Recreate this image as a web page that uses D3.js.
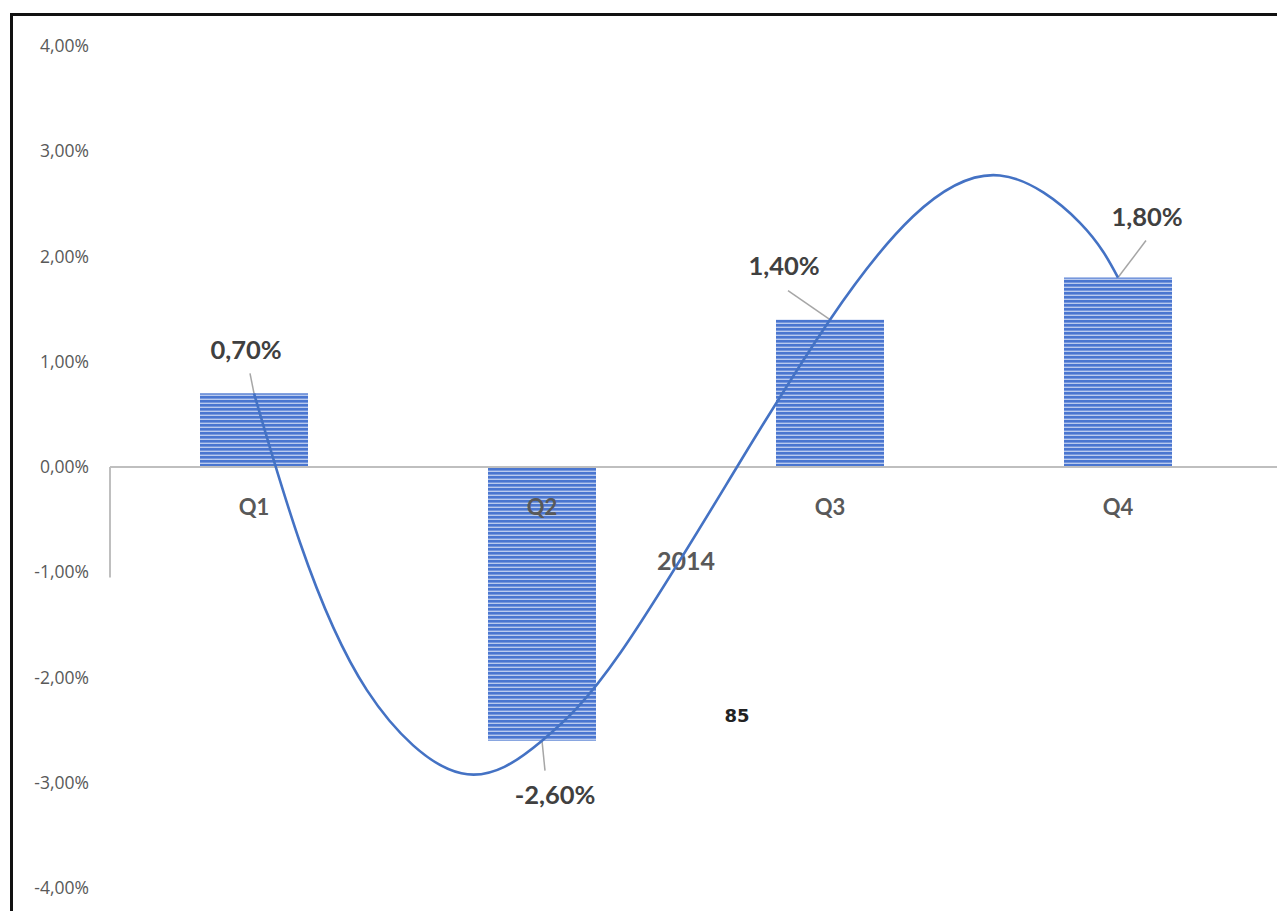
<!DOCTYPE html>
<html>
<head>
<meta charset="utf-8">
<script src="https://cdn.jsdelivr.net/npm/d3@7"></script>
<style>
  html, body { margin: 0; padding: 0; background: #fff; }
  svg { display: block; }
</style>
</head>
<body>
<svg id="chart" width="1277" height="911"></svg>
<script>
// ---- data ----
const categories = ["Q1", "Q2", "Q3", "Q4"];
const groupLabel = "2014";
const barValues = [0.70, -2.60, 1.40, 1.80];
const dataLabels = ["0,70%", "-2,60%", "1,40%", "1,80%"];
const yTicks = [-4, -3, -2, -1, 0, 1, 2, 3, 4];
// smoothed line: position in category units (0 = Q1 ... 3 = Q4) and value (%)
const linePos = [0, 0.160, 0.392, 0.72, 1.0, 1.271, 1.677, 2.0, 2.288, 2.59, 2.868, 3.0];
const lineVal = [0.70, -0.72, -2.12, -2.91, -2.60, -1.77, 0.0, 1.40, 2.38, 2.77, 2.32, 1.80];
const footNote = "85";

// ---- layout ----
const svg = d3.select("#chart");
const W = 1277, H = 911;
const plotLeft = 110, plotRight = 1262, plotTop = 46, plotBottom = 888;

const x = d3.scaleBand().domain(categories).range([plotLeft, plotRight])
  .paddingInner(0.625).paddingOuter(0.3125);
const y = d3.scaleLinear().domain([-4, 4]).range([plotBottom, plotTop]);
const xl = d3.scaleLinear().domain([0, 3])
  .range([x("Q1") + x.bandwidth() / 2, x("Q4") + x.bandwidth() / 2]);

const locale = d3.formatLocale({decimal: ",", thousands: ".", grouping: [3], currency: ["", "€"], minus: "-"});
const f2 = locale.format(".2f");

// stripe pattern
const defs = svg.append("defs");
const pat = defs.append("pattern").attr("id", "stripes")
  .attr("patternUnits", "userSpaceOnUse").attr("width", 8).attr("height", 4);
pat.append("rect").attr("width", 8).attr("height", 4).attr("fill", "#b9caee");
pat.append("rect").attr("width", 8).attr("height", 2.6).attr("fill", "#4a76d0");

// frame
svg.append("line").attr("x1", 10).attr("x2", W).attr("y1", 14.5).attr("y2", 14.5)
  .attr("stroke", "#111").attr("stroke-width", 3);
svg.append("line").attr("x1", 11.5).attr("x2", 11.5).attr("y1", 13).attr("y2", H)
  .attr("stroke", "#111").attr("stroke-width", 3);

// y axis labels
const yAxis = svg.append("g").attr("transform", `translate(${plotLeft},0)`)
  .call(d3.axisLeft(y).tickValues(yTicks).tickSize(0).tickPadding(21)
    .tickFormat(d => f2(d) + "%"));
yAxis.select(".domain").remove();
yAxis.selectAll("text").attr("fill", "#595959")
  .style("font-family", "'Open Sans', Lato, sans-serif").style("font-size", "17.5px");

// bars
svg.append("g").selectAll("rect").data(barValues).join("rect")
  .attr("x", (d, i) => x(categories[i]))
  .attr("width", x.bandwidth())
  .attr("y", d => Math.min(y(d), y(0)))
  .attr("height", d => Math.abs(y(d) - y(0)))
  .attr("fill", "url(#stripes)");

// category axis
const y0 = y(0);
svg.append("line").attr("x1", plotLeft).attr("x2", W).attr("y1", y0).attr("y2", y0)
  .attr("stroke", "#bfbfbf").attr("stroke-width", 2);
svg.append("line").attr("x1", plotLeft).attr("x2", plotLeft).attr("y1", y0).attr("y2", y(-1.05))
  .attr("stroke", "#bfbfbf").attr("stroke-width", 2);

const xAxis = svg.append("g").attr("transform", `translate(0,${y0})`)
  .call(d3.axisBottom(x).tickSize(0).tickPadding(0));
xAxis.select(".domain").remove();
xAxis.selectAll("text").attr("fill", "#595959").attr("dy", null).attr("y", 48)
  .style("font-family", "Lato, 'Open Sans', sans-serif").style("font-size", "22px").style("font-weight", "bold");

svg.append("text").attr("x", (plotLeft + plotRight) / 2).attr("y", y(-1.0) - 2)
  .attr("text-anchor", "middle").attr("fill", "#595959")
  .style("font-family", "Lato, 'Open Sans', sans-serif").style("font-size", "25px").style("font-weight", "bold")
  .text(groupLabel);

// leader lines + labels
const labelOffsets = [[-8, -41], [13, 57], [-46, -51], [29, -58]];
const leaderEnds = [[-4, -20], [3, 30], [-42, -29], [28, -37]];
const pts = barValues.map((v, i) => [xl(i), y(v)]);
svg.append("g").selectAll("line").data(pts).join("line")
  .attr("x1", d => d[0]).attr("y1", d => d[1])
  .attr("x2", (d, i) => d[0] + leaderEnds[i][0]).attr("y2", (d, i) => d[1] + leaderEnds[i][1])
  .attr("stroke", "#a6a6a6").attr("stroke-width", 1.5);

// line
const lineGen = d3.line().x(d => xl(d[0])).y(d => y(d[1])).curve(d3.curveNatural);
svg.append("path").datum(linePos.map((p, i) => [p, lineVal[i]]))
  .attr("d", lineGen).attr("fill", "none").attr("stroke", "#4472c4").attr("stroke-width", 2.6);

svg.append("g").selectAll("text").data(pts).join("text")
  .attr("x", (d, i) => d[0] + labelOffsets[i][0]).attr("y", (d, i) => d[1] + labelOffsets[i][1])
  .attr("text-anchor", "middle").attr("dominant-baseline", "middle")
  .attr("fill", "#404040")
  .style("font-family", "Lato, 'Open Sans', sans-serif").style("font-size", "25.5px").style("font-weight", "bold")
  .text((d, i) => dataLabels[i]);

// stray note
svg.append("text").attr("x", 737).attr("y", y(-2.36) + 7)
  .attr("text-anchor", "middle").attr("fill", "#222")
  .style("font-family", "'DejaVu Sans', sans-serif").style("font-size", "18px").style("font-weight", "bold")
  .text(footNote);
</script>
</body>
</html>
